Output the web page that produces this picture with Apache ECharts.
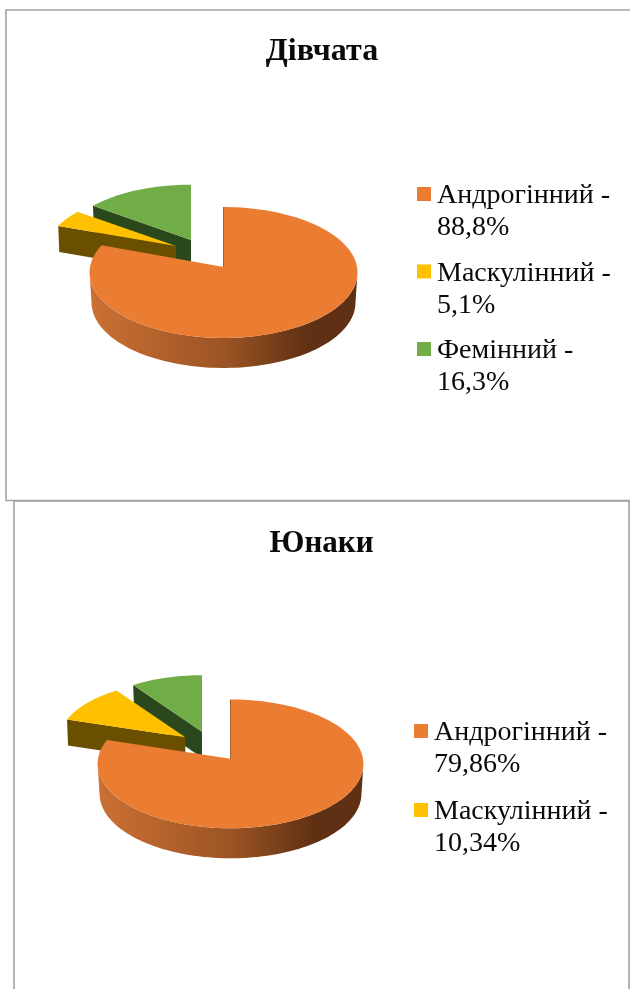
<!DOCTYPE html>
<html>
<head>
<meta charset="utf-8">
<style>html,body{margin:0;padding:0;background:#fff}#c{width:630px;height:989px}</style>
<script src="https://cdn.jsdelivr.net/npm/echarts@6/dist/echarts.min.js"></script>
</head>
<body>
<div id="c"></div>
<script>
// ---- data ----
const girlsTitle = 'Дівчата';
const girlsCategories = ['Андрогінний', 'Маскулінний', 'Фемінний'];
const girlsValues = [88.8, 5.1, 16.3];
const girlsLabels = ['88,8%', '5,1%', '16,3%'];

const boysTitle = 'Юнаки';
const boysCategories = ['Андрогінний', 'Маскулінний', 'Фемінний'];
const boysValues = [79.86, 10.34, 9.8];
const boysLabels = ['79,86%', '10,34%', '9,8%'];

// ---- styles ----
const topColors = ['#EA7D32', '#FFC000', '#70AD47'];
const wallColors = ['#6B4F00', '#6B4F00', '#2A481C'];
const rimGradient = {
  type: 'linear', x: 0, y: 0, x2: 1, y2: 0,
  colorStops: [
    { offset: 0, color: '#CC7034' },
    { offset: 0.5, color: '#9C5424' },
    { offset: 0.82, color: '#5F3013' },
    { offset: 1, color: '#5F3013' }
  ]
};

// ---- layout of the two tilted pies (apex in px, perspective radii) ----
const girlsLayout = {
  apex: [[223.5, 267], [176, 246], [191, 240]],
  a: [133.5, 129, 128.5], b: [65, 60, 60], k: [0.084, 0.084, 0.084], depth: [30, 26, 26]
};
const boysLayout = {
  apex: [[230.5, 758.7], [185.3, 737.3], [202, 731.7]],
  a: [132.5, 127, 127], b: [64, 61, 61], k: [0.08, 0.08, 0.08], depth: [30, 26, 26]
};

function project(layout, i, deg) {
  const t = deg * Math.PI / 180;
  const u = Math.sin(t), v = -Math.cos(t);
  const w = 1 - layout.k[i] * v;
  return [layout.apex[i][0] + layout.a[i] * u / w, layout.apex[i][1] + layout.b[i] * v / w];
}

function arcPoints(layout, i, from, to, dy, sx) {
  const pts = [];
  const n = Math.max(2, Math.ceil(Math.abs(to - from) / 2));
  const cx = layout.apex[i][0];
  for (let j = 0; j <= n; j++) {
    const p = project(layout, i, from + (to - from) * j / n);
    pts.push([cx + (p[0] - cx) * (sx || 1), p[1] + (dy || 0)]);
  }
  return pts;
}

function sliceSeries(values, labels, categories, layout, i) {
  const total = values.reduce((s, x) => s + x, 0);
  let before = 0;
  for (let j = 0; j < i; j++) before += values[j];
  return {
    type: 'custom',
    coordinateSystem: 'none',
    name: categories[i] + ' -\n' + labels[i],
    silent: true,
    itemStyle: { color: topColors[i] },
    data: [[values[i]]],
    renderItem: function (params, api) {
      const start = before / total * 360;
      const end = start + api.value(0) / total * 360;
      const apex = layout.apex[i];
      const depth = layout.depth[i];
      const top = arcPoints(layout, i, start, end);
      const children = [];
      if (i === 0) {
        // outer rim of the big slice, between its right and left silhouette points
        const upper = arcPoints(layout, i, 95, 265);
        const lower = arcPoints(layout, i, 95, 265, depth, 0.985).reverse();
        children.push({ type: 'polygon', shape: { points: upper.concat(lower) }, style: { fill: rimGradient } });
      } else {
        // cut face turned to the viewer
        const o = top[0];
        children.push({
          type: 'polygon',
          shape: { points: [o, apex, [apex[0], apex[1] + depth], [o[0] + 1, o[1] + depth]] },
          style: { fill: wallColors[i] }
        });
      }
      children.push({
        type: 'polygon',
        shape: { points: [apex].concat(top) },
        style: { fill: topColors[i] }
      });
      if (i === 0) {
        children.push({
          type: 'line',
          shape: { x1: apex[0], y1: apex[1], x2: top[0][0], y2: top[0][1] },
          style: { stroke: '#A8602C', lineWidth: 1 }
        });
      }
      return { type: 'group', children: children };
    }
  };
}

const drawOrder = [2, 1, 0];
const series = drawOrder.map(i => sliceSeries(girlsValues, girlsLabels, girlsCategories, girlsLayout, i))
  .concat(drawOrder.map(i => sliceSeries(boysValues, boysLabels, boysCategories, boysLayout, i)));

const marker = 'path://M0 7H14V21H0Z M0 0L14 0 M0 64L14 64';
const legendBase = {
  orient: 'vertical', padding: 0, itemWidth: 14, itemHeight: 64,
  icon: marker, selectedMode: false, itemStyle: { borderWidth: 0 },
  textStyle: { fontFamily: 'Liberation Serif', fontSize: 28, lineHeight: 32, color: '#0a0a0a', padding: [0, 0, 0, 1] }
};
const frameStyle = { stroke: '#A3A3A3', lineWidth: 1.6, fill: null };

const option = {
  animation: false,
  backgroundColor: '#fff',
  title: [
    { text: girlsTitle, left: 317, top: 31, textAlign: 'center',
      textStyle: { fontFamily: 'Liberation Serif', fontSize: 32, fontWeight: 'bold', color: '#0a0a0a' } },
    { text: boysTitle, left: 316.5, top: 523, textAlign: 'center',
      textStyle: { fontFamily: 'Liberation Serif', fontSize: 31, fontWeight: 'bold', color: '#0a0a0a' } }
  ],
  legend: [
    Object.assign({}, legendBase, {
      left: 417, top: 180, itemGap: 13.5,
      data: girlsCategories.map((c, i) => c + ' -\n' + girlsLabels[i])
    }),
    Object.assign({}, legendBase, {
      left: 414, top: 717, itemGap: 15,
      data: boysCategories.slice(0, 2).map((c, i) => c + ' -\n' + boysLabels[i])
    })
  ],
  graphic: [
    { type: 'polyline', silent: true, shape: { points: [[630, 10], [6, 10], [6, 500.5], [630, 500.5]] }, style: frameStyle },
    { type: 'polyline', silent: true, shape: { points: [[14, 989], [14, 501], [629, 501], [629, 989]] }, style: frameStyle }
  ],
  series: series
};
echarts.init(document.getElementById('c'), null, { renderer: 'canvas' }).setOption(option);
</script>
</body>
</html>
